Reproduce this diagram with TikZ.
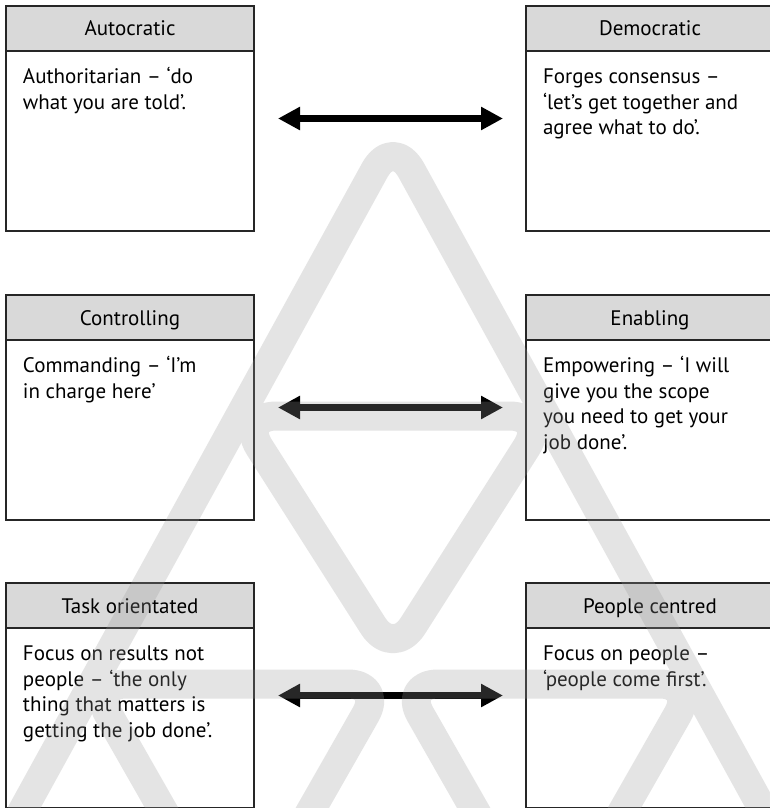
\documentclass[tikz,border=0pt]{standalone}
\usepackage{fontspec}
\setmainfont{PT Sans}
\usetikzlibrary{arrows.meta}
\definecolor{hdr}{HTML}{D9D9D9}
\definecolor{wm}{gray}{0.6}
\tikzset{
  box/.style={draw=black!85, line width=1.2pt, minimum width=248pt, minimum height=225pt,
    inner sep=0pt, outer sep=0pt, anchor=north west},
  head/.style={draw=black!85, line width=1.2pt, fill=hdr, minimum width=248pt, minimum height=45pt,
    inner sep=0pt, outer sep=0pt, anchor=north, text height=15pt, text depth=0pt},
  body/.style={anchor=north west, inner sep=0pt, outer sep=0pt, align=left},
  link/.style={line width=7pt, {Triangle[length=22pt,width=22pt]}-{Triangle[length=22pt,width=22pt]},
    shorten <=24pt, shorten >=23pt},
  ribbon/.style={draw=wm, line width=29pt, line join=round}
}
\newcommand{\bodyshift}{([xshift=17pt, yshift=-59.65pt]}
\begin{document}
\begin{tikzpicture}[x=1pt, y=-1pt, font=\fontsize{21}{25.5}\selectfont]
\useasboundingbox (0,0) rectangle (769,808);
\fill[white] (0,0) rectangle (769,808);

% left column boxes
\node[box] (auto) at (6,6) {};
\node[box] (ctrl) at (6,295) {};
\node[box] (task) at (6,583) {};
% right column boxes
\node[box] (demo) at (526,6) {};
\node[box] (enab) at (526,295) {};
\node[box] (peop) at (526,583) {};

% header bars
\node[head] (autoH) at (auto.north) {Autocratic};
\node[head] (ctrlH) at (ctrl.north) {Controlling};
\node[head] (taskH) at (task.north) {Task orientated};
\node[head] (demoH) at (demo.north) {Democratic};
\node[head] (enabH) at (enab.north) {Enabling};
\node[head] (peopH) at (peop.north) {People centred};

% descriptions
\node[body] (autoT) at \bodyshift auto.north west) {\strut Authoritarian – ‘do\\what you are told’.};
\node[body] (ctrlT) at \bodyshift ctrl.north west) {\strut Commanding – ‘I’m\\in charge here’};
\node[body] (taskT) at \bodyshift task.north west) {\strut Focus on results not\\people – ‘the only\\thing that matters is\\getting the job done’.};
\node[body] (demoT) at \bodyshift demo.north west) {\strut Forges consensus –\\‘let’s get together and\\agree what to do’.};
\node[body] (enabT) at \bodyshift enab.north west) {\strut Empowering – ‘I will\\give you the scope\\you need to get your\\job done’.};
\node[body] (peopT) at \bodyshift peop.north west) {\strut Focus on people –\\‘people come first’.};

% two-way arrows between opposite styles
\draw[link] (auto.east) -- (demo.west);
\draw[link] (ctrl.east) -- (enab.west);
\draw[link] (task.east) -- (peop.west);

% translucent ribbon emblem laid over the page
\begin{scope}
  \clip (0,0) rectangle (769,808);
  \begin{scope}[transparency group, opacity=0.26]
    \draw[ribbon, rounded corners=38pt] (0.85,850) -- (393,137) -- (785.15,850);
    \draw[ribbon, rounded corners=37pt] (393,416) -- (546.5,416) -- (393,657) -- (239.5,416) -- cycle;
    \draw[ribbon, rounded corners=35pt] (237,684) -- (383,684) -- (237,940) -- (91,684) -- cycle;
    \draw[ribbon, rounded corners=35pt] (549,684) -- (695,684) -- (549,940) -- (403,684) -- cycle;
  \end{scope}
\end{scope}
\end{tikzpicture}
\end{document}
